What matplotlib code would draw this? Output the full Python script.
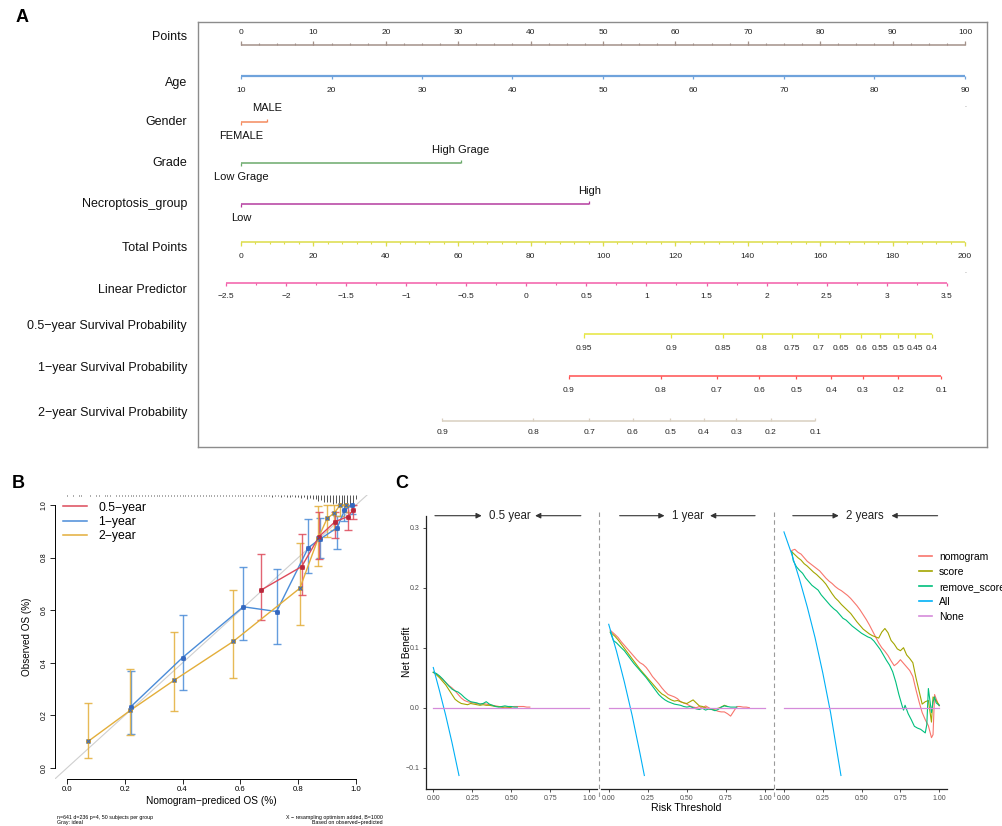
import numpy as np
import matplotlib
matplotlib.use("Agg")
import matplotlib.pyplot as plt
from matplotlib.lines import Line2D

plt.rcParams['font.family'] = ['Liberation Sans', 'DejaVu Sans']

W, H = 1002, 826

# ---------------- Panel A: nomogram scales (positions in "points", 0-100) ----------------
points_ticks = [0, 10, 20, 30, 40, 50, 60, 70, 80, 90, 100]
age_ticks = [10, 20, 30, 40, 50, 60, 70, 80, 90]
gender_levels = ["FEMALE", "MALE"]
gender_points = [0, 3.6]
grade_levels = ["Low Grage", "High Grage"]
grade_points = [0, 30.4]
necro_levels = ["Low", "High"]
necro_points = [0, 48.1]
total_ticks = [0, 20, 40, 60, 80, 100, 120, 140, 160, 180, 200]
lp_ticks = [-2.5, -2, -1.5, -1, -0.5, 0, 0.5, 1, 1.5, 2, 2.5, 3, 3.5]
surv05_labels = ["0.95", "0.9", "0.85", "0.8", "0.75", "0.7", "0.65", "0.6", "0.55", "0.5", "0.45", "0.4"]
surv05_points = [47.4, 59.4, 66.6, 71.9, 76.1, 79.7, 82.8, 85.7, 88.3, 90.8, 93.1, 95.4]
surv1_labels = ["0.9", "0.8", "0.7", "0.6", "0.5", "0.4", "0.3", "0.2", "0.1"]
surv1_points = [45.3, 58.0, 65.7, 71.6, 76.7, 81.5, 85.9, 90.8, 96.7]
surv2_labels = ["0.9", "0.8", "0.7", "0.6", "0.5", "0.4", "0.3", "0.2", "0.1"]
surv2_points = [27.8, 40.4, 48.1, 54.1, 59.3, 63.9, 68.4, 73.2, 79.3]

# ---------------- Panel B: calibration ----------------
cal05_x = [0.672, 0.812, 0.872, 0.928, 0.972, 0.990]
cal05_y = [0.677, 0.766, 0.880, 0.937, 0.956, 0.982]
cal05_lo = [0.561, 0.656, 0.794, 0.873, 0.906, 0.945]
cal05_hi = [0.814, 0.890, 0.975, 0.975, 0.997, 1.000]

cal1_x = [0.220, 0.400, 0.610, 0.725, 0.835, 0.875, 0.935, 0.960, 0.985]
cal1_y = [0.232, 0.420, 0.613, 0.595, 0.838, 0.870, 0.914, 0.980, 1.000]
cal1_lo = [0.130, 0.297, 0.487, 0.471, 0.740, 0.800, 0.833, 0.940, 0.965]
cal1_hi = [0.370, 0.582, 0.766, 0.756, 0.947, 0.950, 0.959, 1.000, 1.000]

cal2_x = [0.073, 0.219, 0.370, 0.575, 0.806, 0.870, 0.900, 0.925, 0.945, 0.965]
cal2_y = [0.101, 0.219, 0.333, 0.481, 0.684, 0.876, 0.949, 0.970, 1.000, 1.000]
cal2_lo = [0.038, 0.124, 0.218, 0.342, 0.544, 0.768, 0.880, 0.905, 0.960, 0.975]
cal2_hi = [0.249, 0.376, 0.519, 0.677, 0.854, 0.997, 1.000, 1.000, 1.000, 1.000]

# spike histogram of predicted values (counts per 0.01 bin, 0.00 .. 1.00)
spike_counts = [1, 0, 1, 0, 1, 1, 0, 0, 1, 0,
                1, 1, 0, 1, 1, 1, 0, 1, 1, 1,
                1, 1, 1, 1, 2, 1, 1, 1, 1, 1,
                1, 1, 1, 2, 1, 1, 1, 2, 1, 1,
                1, 2, 1, 1, 1, 2, 1, 1, 2, 1,
                2, 1, 2, 1, 2, 2, 1, 2, 2, 1,
                2, 2, 1, 2, 2, 2, 2, 1, 2, 2,
                2, 3, 2, 2, 3, 2, 3, 3, 2, 3,
                3, 4, 3, 5, 4, 6, 5, 8, 7, 9,
                10, 9, 12, 11, 13, 12, 14, 13, 15, 12,
                6]

# ---------------- Panel C: decision curves ----------------
dca_labels = ["nomogram", "score", "remove_score", "All", "None"]
dca_colors = ["#F8766D", "#A3A500", "#00BF7D", "#00B0F6", "#D58BDA"]
facet_titles = ["0.5 year", "1 year", "2 years"]

# 0.5 year
nomo05_x = [0.00, 0.02, 0.04, 0.06, 0.08, 0.10, 0.12, 0.14, 0.16, 0.18, 0.20, 0.22, 0.24, 0.26, 0.28, 0.30,
            0.32, 0.34, 0.36, 0.38, 0.40, 0.42, 0.44, 0.46, 0.48, 0.50, 0.52, 0.54, 0.56, 0.58, 0.60, 0.62]
nomo05_y = [0.059, 0.056, 0.052, 0.047, 0.042, 0.037, 0.033, 0.028, 0.022, 0.016, 0.012, 0.010, 0.009, 0.008,
            0.007, 0.006, 0.007, 0.006, 0.005, 0.004, 0.003, 0.002, 0.001, -0.001, 0.000, 0.001, 0.002, 0.002,
            0.002, 0.002, 0.001, 0.001]
score05_x = [0.00, 0.02, 0.04, 0.06, 0.08, 0.10, 0.12, 0.14, 0.16, 0.18, 0.20, 0.22, 0.24, 0.26, 0.28, 0.30,
             0.32, 0.34, 0.36, 0.38, 0.40, 0.42, 0.44, 0.46, 0.48, 0.50]
score05_y = [0.059, 0.055, 0.050, 0.044, 0.038, 0.030, 0.022, 0.014, 0.010, 0.007, 0.006, 0.005, 0.007, 0.006,
             0.005, 0.004, 0.005, 0.004, 0.004, 0.003, 0.002, 0.002, 0.001, 0.001, 0.001, 0.000]
remove05_x = [0.00, 0.02, 0.04, 0.06, 0.08, 0.10, 0.12, 0.14, 0.16, 0.18, 0.20, 0.22, 0.24, 0.26, 0.28, 0.30,
              0.32, 0.34, 0.36, 0.38, 0.40, 0.42, 0.44, 0.46, 0.48, 0.50, 0.52, 0.54]
remove05_y = [0.059, 0.057, 0.053, 0.048, 0.042, 0.036, 0.031, 0.028, 0.026, 0.022, 0.017, 0.013, 0.010, 0.009,
              0.008, 0.006, 0.007, 0.010, 0.006, 0.004, 0.002, 0.001, 0.002, 0.003, 0.002, 0.002, 0.001, 0.001]
all05_x = [0.00, 0.04, 0.08, 0.12, 0.165]
all05_y = [0.067, 0.028, -0.013, -0.058, -0.113]

# 1 year
nomo1_x = [0.01, 0.04, 0.06, 0.08, 0.10, 0.12, 0.14, 0.16, 0.18, 0.20, 0.22, 0.24, 0.26, 0.28, 0.30, 0.32,
           0.34, 0.36, 0.38, 0.40, 0.42, 0.44, 0.46, 0.48, 0.50, 0.52, 0.54, 0.56, 0.58, 0.60, 0.62, 0.64,
           0.66, 0.68, 0.70, 0.72, 0.74, 0.76, 0.78, 0.80, 0.82, 0.84, 0.86, 0.88, 0.90]
nomo1_y = [0.129, 0.122, 0.117, 0.110, 0.104, 0.098, 0.092, 0.086, 0.080, 0.075, 0.072, 0.067, 0.060, 0.052,
           0.046, 0.040, 0.033, 0.027, 0.022, 0.020, 0.018, 0.015, 0.010, 0.008, 0.006, 0.003, 0.001, 0.000,
           0.002, -0.001, 0.003, 0.000, -0.003, -0.004, -0.006, -0.007, -0.007, -0.010, -0.014, -0.006,
           0.002, 0.002, 0.001, 0.001, 0.000]
score1_x = [0.01, 0.04, 0.06, 0.08, 0.10, 0.12, 0.14, 0.16, 0.18, 0.20, 0.22, 0.24, 0.26, 0.28, 0.30, 0.32,
            0.34, 0.36, 0.38, 0.40, 0.42, 0.44, 0.46, 0.48, 0.50, 0.52, 0.54, 0.56, 0.58, 0.60, 0.62, 0.64,
            0.66, 0.68, 0.70, 0.72, 0.74, 0.76]
score1_y = [0.126, 0.119, 0.113, 0.106, 0.099, 0.092, 0.085, 0.078, 0.071, 0.064, 0.058, 0.052, 0.046, 0.040,
            0.034, 0.028, 0.023, 0.020, 0.016, 0.013, 0.011, 0.012, 0.010, 0.008, 0.007, 0.010, 0.013, 0.008,
            0.003, 0.002, 0.000, -0.002, -0.003, -0.002, -0.001, 0.001, 0.004, 0.002]
remove1_x = [0.01, 0.03, 0.05, 0.08, 0.10, 0.12, 0.14, 0.16, 0.18, 0.20, 0.22, 0.24, 0.26, 0.28, 0.30, 0.32,
             0.34, 0.36, 0.38, 0.40, 0.42, 0.44, 0.46, 0.48, 0.50, 0.52, 0.54, 0.56, 0.58, 0.60, 0.62, 0.64,
             0.66, 0.68, 0.70, 0.72, 0.74, 0.76, 0.78, 0.80, 0.82]
remove1_y = [0.126, 0.112, 0.108, 0.100, 0.095, 0.088, 0.081, 0.074, 0.068, 0.062, 0.056, 0.050, 0.043, 0.036,
             0.029, 0.022, 0.017, 0.013, 0.010, 0.008, 0.006, 0.005, 0.004, 0.002, 0.001, 0.002, 0.000, -0.002,
             -0.003, -0.001, -0.004, -0.002, -0.003, -0.005, -0.003, 0.001, 0.003, 0.002, 0.001, 0.001, 0.001]
all1_x = [0.00, 0.05, 0.10, 0.15, 0.20, 0.228]
all1_y = [0.139, 0.094, 0.043, -0.013, -0.076, -0.113]

# 2 years
nomo2_x = [0.05, 0.07, 0.09, 0.11, 0.13, 0.15, 0.17, 0.19, 0.21, 0.23, 0.25, 0.27, 0.29, 0.31, 0.33, 0.35,
           0.37, 0.39, 0.41, 0.43, 0.45, 0.47, 0.49, 0.51, 0.53, 0.55, 0.57, 0.59, 0.61, 0.63, 0.65, 0.67,
           0.69, 0.71, 0.73, 0.75, 0.77, 0.79, 0.81, 0.83, 0.85, 0.87, 0.89, 0.91, 0.93, 0.95, 0.96, 0.97,
           0.98, 0.99, 1.00]
nomo2_y = [0.262, 0.264, 0.259, 0.256, 0.250, 0.244, 0.240, 0.236, 0.232, 0.228, 0.222, 0.216, 0.211, 0.207,
           0.202, 0.198, 0.195, 0.191, 0.187, 0.182, 0.176, 0.170, 0.163, 0.155, 0.147, 0.138, 0.128, 0.118,
           0.108, 0.100, 0.094, 0.087, 0.078, 0.070, 0.074, 0.080, 0.074, 0.068, 0.062, 0.052, 0.030, 0.010,
           -0.008, -0.020, -0.030, -0.050, -0.045, 0.022, 0.015, 0.008, 0.003]
score2_x = [0.05, 0.07, 0.09, 0.11, 0.13, 0.15, 0.17, 0.19, 0.21, 0.23, 0.25, 0.27, 0.29, 0.31, 0.33, 0.35,
            0.37, 0.39, 0.41, 0.43, 0.45, 0.47, 0.49, 0.51, 0.53, 0.55, 0.57, 0.59, 0.61, 0.63, 0.65, 0.67,
            0.69, 0.71, 0.73, 0.75, 0.77, 0.79, 0.81, 0.83, 0.85, 0.87, 0.89, 0.91, 0.93, 0.95, 0.96, 0.98,
            1.00]
score2_y = [0.260, 0.255, 0.250, 0.246, 0.240, 0.236, 0.231, 0.226, 0.222, 0.217, 0.212, 0.206, 0.198, 0.190,
            0.183, 0.178, 0.172, 0.167, 0.162, 0.157, 0.150, 0.143, 0.137, 0.131, 0.127, 0.123, 0.120, 0.118,
            0.116, 0.126, 0.132, 0.125, 0.112, 0.106, 0.098, 0.095, 0.100, 0.088, 0.082, 0.075, 0.050, 0.028,
            0.006, 0.010, 0.012, -0.024, 0.018, 0.012, 0.004]
remove2_x = [0.05, 0.06, 0.08, 0.10, 0.12, 0.14, 0.16, 0.18, 0.20, 0.22, 0.24, 0.26, 0.28, 0.30, 0.32, 0.34,
             0.36, 0.38, 0.40, 0.42, 0.44, 0.46, 0.48, 0.50, 0.52, 0.54, 0.56, 0.58, 0.60, 0.62, 0.64, 0.66,
             0.68, 0.70, 0.72, 0.74, 0.76, 0.77, 0.78, 0.80, 0.82, 0.84, 0.86, 0.88, 0.90, 0.91, 0.92, 0.93,
             0.94, 0.95, 0.96, 0.97, 0.98, 1.00]
remove2_y = [0.260, 0.245, 0.235, 0.229, 0.224, 0.216, 0.210, 0.204, 0.200, 0.196, 0.188, 0.182, 0.176, 0.170,
             0.165, 0.161, 0.155, 0.149, 0.146, 0.141, 0.136, 0.132, 0.128, 0.124, 0.121, 0.118, 0.116, 0.111,
             0.104, 0.097, 0.088, 0.079, 0.071, 0.060, 0.043, 0.022, 0.004, -0.004, 0.004, -0.010, -0.020,
             -0.031, -0.034, -0.036, -0.040, -0.042, -0.028, 0.032, 0.012, -0.008, 0.010, 0.018, 0.008, 0.004]
all2_x = [0.00, 0.05, 0.10, 0.15, 0.20, 0.25, 0.30, 0.367]
all2_y = [0.293, 0.256, 0.214, 0.168, 0.117, 0.058, -0.008, -0.113]

facets = [
    [(nomo05_x, nomo05_y), (score05_x, score05_y), (remove05_x, remove05_y), (all05_x, all05_y)],
    [(nomo1_x, nomo1_y), (score1_x, score1_y), (remove1_x, remove1_y), (all1_x, all1_y)],
    [(nomo2_x, nomo2_y), (score2_x, score2_y), (remove2_x, remove2_y), (all2_x, all2_y)],
]

fig = plt.figure(figsize=(W / 100, H / 100), dpi=100)


def fx(px):
    return px / W


def fy(py):
    return 1 - py / H


# ============ Panel A ============
axA = fig.add_axes([fx(198), fy(447), fx(987 - 198), (447 - 22) / H])
axA.set_xlim(-5.94, 103.04)
axA.set_ylim(447, 22)
axA.set_xticks([])
axA.set_yticks([])
for s in axA.spines.values():
    s.set_color("#8c8c8c")
    s.set_linewidth(1.0)


def age_pos(a):
    return (a - 10) * 1.25


def total_pos(t):
    return t / 2.0


def lp_pos(v):
    return 39.4 + 16.6 * v


def scale(y, pos, labels, color, tdir, label_y, minor=None, tlen=3.5, mlen=2.0, lw=1.1):
    axA.hlines(y, min(pos), max(pos), color=color, lw=lw)
    axA.vlines(pos, y, y + tdir * tlen, color=color, lw=0.9)
    if minor is not None:
        axA.vlines(minor, y, y + tdir * mlen, color=color, lw=0.8)
    for p, lab in zip(pos, labels):
        axA.text(p, label_y, lab, ha="center", va="center", fontsize=6, color="#222222")


def factor(y, pos, labels, color, lab_hi, lab_lo):
    axA.hlines(y, pos[0], pos[1], color=color, lw=1.1)
    axA.vlines(pos[0], y, y + 3, color=color, lw=0.9)
    axA.vlines(pos[1], y, y - 3, color=color, lw=0.9)
    axA.text(pos[1], lab_hi, labels[1], ha="center", va="center", fontsize=8, color="#111111")
    axA.text(pos[0], lab_lo, labels[0], ha="center", va="center", fontsize=8, color="#111111")


scale(45, points_ticks, [str(v) for v in points_ticks], "#A39189", -1, 33,
      minor=list(np.arange(0, 100.1, 2.5)), tlen=4.3, mlen=1.8)
scale(76, [age_pos(a) for a in age_ticks], [str(a) for a in age_ticks], "#6FA3DC", 1, 90, tlen=3.2, lw=1.6)
factor(122.3, gender_points, gender_levels, "#F48A5E", 108, 136)
factor(163.3, grade_points, grade_levels, "#6BAA6B", 150, 177)
factor(204, necro_points, necro_levels, "#B43C9F", 191, 218)
scale(241.7, [total_pos(t) for t in total_ticks], [str(t) for t in total_ticks], "#DCDC48", 1, 256,
      minor=[total_pos(t) for t in range(0, 201, 4)], tlen=4.0, mlen=2.8)
scale(282.7, [lp_pos(v) for v in lp_ticks], [("%g" % v).replace("-", "\u2212") for v in lp_ticks],
      "#F25CA8", 1, 297, minor=[lp_pos(v) for v in np.arange(-2.25, 3.5, 0.5)], tlen=3.6, mlen=2.2)
scale(334.3, surv05_points, surv05_labels, "#E6E63C", 1, 348.7, tlen=3.4)
scale(376, surv1_points, surv1_labels, "#FF5050", 1, 391, tlen=3.4)
scale(421.5, surv2_points, surv2_labels, "#D9CFC0", -1, 432.3, tlen=3.4)
axA.text(age_pos(90), 109, ".", ha="center", va="bottom", fontsize=5, color="#777777")
axA.text(total_pos(200), 275, ".", ha="center", va="bottom", fontsize=5, color="#777777")

row_names = ["Points", "Age", "Gender", "Grade", "Necroptosis_group", "Total Points", "Linear Predictor",
             "0.5\u2212year Survival Probability", "1\u2212year Survival Probability",
             "2\u2212year Survival Probability"]
row_y = [36.7, 82.7, 122.3, 163.3, 204, 248.3, 290, 326, 368, 413]
for name, yy in zip(row_names, row_y):
    axA.text(-7.46, yy, name, ha="right", va="center", fontsize=9, color="#111111", clip_on=False)

fig.text(fx(22), fy(18), "A", fontsize=13, fontweight="bold", ha="center", va="center")

# ============ Panel B ============
axB = fig.add_axes([fx(55.4), fy(778.5), fx(312.2), 284 / H])
axB.set_xlim(-0.04, 1.04)
axB.set_ylim(-0.04, 1.04)
for side in ["top", "right"]:
    axB.spines[side].set_visible(False)
axB.spines["left"].set_bounds(0, 1)
axB.spines["bottom"].set_bounds(0, 1)
for side in ["left", "bottom"]:
    axB.spines[side].set_linewidth(0.7)
axB.set_xticks(np.arange(0, 1.01, 0.2))
axB.set_yticks(np.arange(0, 1.01, 0.2))
axB.set_xticklabels(["%.1f" % v for v in np.arange(0, 1.01, 0.2)], fontsize=5.6)
axB.set_yticklabels(["%.1f" % v for v in np.arange(0, 1.01, 0.2)], fontsize=5.0, rotation=90, va="center")
axB.tick_params(length=3.5, width=0.6, pad=2)

axB.plot([-0.04, 1.04], [-0.04, 1.04], color="#cfcfcf", lw=0.8, zorder=1)

spike_x = np.arange(len(spike_counts)) * 0.01
spike_h = np.array(spike_counts) * 0.0028
spike_top = 1.038
axB.vlines(spike_x[spike_h > 0], spike_top - spike_h[spike_h > 0], spike_top, color="#111111", lw=0.5,
           clip_on=False)

series = [
    (cal1_x, cal1_y, cal1_lo, cal1_hi, "#4A8CD8", "#3468C0", "#3468C0"),
    (cal2_x, cal2_y, cal2_lo, cal2_hi, "#E3AE3A", "#D49A1E", "#3E6CB8"),
    (cal05_x, cal05_y, cal05_lo, cal05_hi, "#DD4A5A", "#C8283C", "#B0283C"),
]
for x, y, lo, hi, col, dot, xcol in series:
    x = np.array(x)
    y = np.array(y)
    axB.errorbar(x, y, yerr=[y - np.array(lo), np.array(hi) - y], fmt="none", ecolor=col, elinewidth=1.0,
                 capsize=3, capthick=1.0, alpha=0.85, zorder=2)
    axB.plot(x, y, color=col, lw=1.0, zorder=3)
    axB.plot(x, y, "o", color=dot, ms=2.6, zorder=4)
    axB.plot(x, y, "x", color=xcol, ms=3.2, mew=0.8, zorder=5)

legB = [Line2D([0], [0], color="#DD4A5A", lw=1.1), Line2D([0], [0], color="#4A8CD8", lw=1.1),
        Line2D([0], [0], color="#E3AE3A", lw=1.1)]
axB.legend(legB, ["0.5\u2212year", "1\u2212year", "2\u2212year"], loc="upper left",
           bbox_to_anchor=(0.024, 0.975), frameon=False, fontsize=8.8, handlelength=2.0,
           handletextpad=0.9, labelspacing=0.2, borderpad=0, borderaxespad=0)

axB.set_xlabel("Nomogram\u2212prediced OS (%)", fontsize=7.3, labelpad=2)
fig.text(fx(27), fy(637), "Observed OS (%)", rotation=90, fontsize=7.1, ha="center", va="center")
fig.text(fx(57), fy(820), "n=641 d=236 p=4, 50 subjects per group\nGray: ideal", fontsize=3.8,
         ha="left", va="center", linespacing=1.0)
fig.text(fx(383), fy(820), "X \u2212 resampling optimism added, B=1000\nBased on observed\u2212predicted",
         fontsize=3.8, ha="right", va="center", linespacing=1.0, multialignment="right")
fig.text(fx(18), fy(483), "B", fontsize=13, fontweight="bold", ha="center", va="center")

# ============ Panel C ============
facet_px = [(425.5, 596.8), (600.9, 772.8), (776.2, 947.0)]
arrow_fr = [(0.055, 0.328, 0.49, 0.907, 0.64), (0.109, 0.37, 0.509, 0.897, 0.635),
            (0.097, 0.366, 0.518, 0.945, 0.675)]
axesC = []
for i, (l, r) in enumerate(facet_px):
    ax = fig.add_axes([fx(l), fy(788.7), fx(r - l), (788.7 - 515.7) / H])
    ax.set_xlim(-0.05, 1.05)
    ax.set_ylim(-0.135, 0.32)
    for side in ["top", "right"]:
        ax.spines[side].set_visible(False)
    ax.spines["bottom"].set_linewidth(0.9)
    ax.spines["bottom"].set_color("#222222")
    if i == 0:
        ax.spines["left"].set_linewidth(0.9)
        ax.spines["left"].set_color("#222222")
        ax.set_yticks([-0.1, 0.0, 0.1, 0.2, 0.3])
        ax.set_yticklabels(["\u22120.1", "0.0", "0.1", "0.2", "0.3"])
    else:
        ax.spines["left"].set_visible(False)
        ax.set_yticks([])
    ax.set_xticks([0, 0.25, 0.5, 0.75, 1.0])
    ax.set_xticklabels(["0.00", "0.25", "0.50", "0.75", "1.00"])
    ax.tick_params(length=2.2, width=0.6, colors="#333333", labelsize=5, labelcolor="#4D4D4D", pad=2)

    for (cx, cy), col in zip(facets[i], dca_colors[:4]):
        ax.plot(cx, cy, color=col, lw=0.8)
    ax.plot([0, 1], [0, 0], color=dca_colors[4], lw=0.9)

    a0, a1, tx, b0, b1 = arrow_fr[i]
    ax.annotate("", xy=(a1, 1.0), xytext=(a0, 1.0), xycoords="axes fraction",
                arrowprops=dict(arrowstyle="-|>", color="#333333", lw=0.8, mutation_scale=8,
                                shrinkA=0, shrinkB=0), annotation_clip=False)
    ax.annotate("", xy=(b1, 1.0), xytext=(b0, 1.0), xycoords="axes fraction",
                arrowprops=dict(arrowstyle="-|>", color="#333333", lw=0.8, mutation_scale=8,
                                shrinkA=0, shrinkB=0), annotation_clip=False)
    ax.text(tx, 1.0, facet_titles[i], transform=ax.transAxes, ha="center", va="center", fontsize=8.3,
            color="#222222")
    axesC.append(ax)

for xpx in [598.5, 774.3]:
    fig.add_artist(Line2D([fx(xpx), fx(xpx)], [fy(512), fy(797)], color="#9a9a9a", lw=0.8,
                          ls=(0, (4, 3))))

fig.text(fx(406.7), fy(652), "Net Benefit", rotation=90, fontsize=7.3, ha="center", va="center")
fig.text(fx(686), fy(808), "Risk Threshold", fontsize=7.6, ha="center", va="center")
fig.text(fx(402), fy(483), "C", fontsize=13, fontweight="bold", ha="center", va="center")

# legend runs past the right edge of the figure, as in the source image
legC = [Line2D([0], [0], color=c, lw=1.2) for c in dca_colors]
fig.legend(legC, dca_labels, loc="upper left", bbox_to_anchor=(fx(919), fy(552)), frameon=False,
           fontsize=7.5, handlelength=1.25, handletextpad=0.65, labelspacing=0.47, borderpad=0,
           borderaxespad=0)

fig.savefig("out.png", dpi=100)
